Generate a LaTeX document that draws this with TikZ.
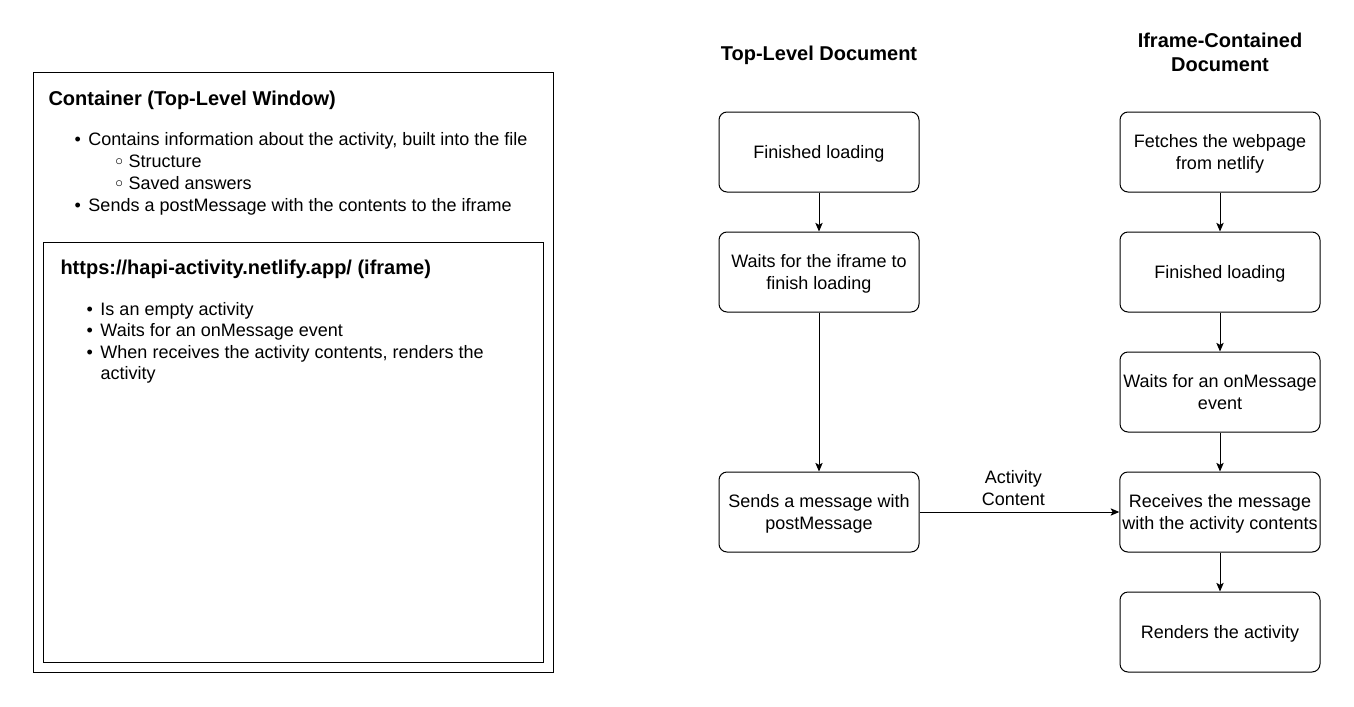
\documentclass[tikz,border=0pt]{standalone}
\usepackage{fontspec}
\setmainfont{Liberation Sans}
\usepackage{tikz}
\usetikzlibrary{arrows.meta}

\newcommand{\bul}{\makebox[10.5pt][l]{\textbullet}}
\newcommand{\subbul}{\makebox[10.5pt][l]{\hspace{0.6pt}\raisebox{1pt}{\scalebox{0.8}{$\circ$}}}}

\begin{document}
\begin{tikzpicture}[x=0.75pt, y=-0.75pt, line width=0.75pt, font=\fontsize{13.5}{16.5}\selectfont]
        \tikzstyle{proc} = [draw, rounded corners=6pt, minimum width=150pt, minimum height=60pt, align=center, inner sep=2pt, text depth=0pt]
        \tikzstyle{frame} = [draw, inner sep=0pt]
        \tikzstyle{head} = [font=\fontsize{15}{18}\selectfont\bfseries, align=center]
        \tikzstyle{listline} = [anchor=base west, inner sep=0pt]
        \tikzstyle{link} = [-{Stealth[length=6.5pt, width=5.5pt, inset=1.5pt]}]
        \useasboundingbox (0,0) rectangle (1354,707);

        % container and iframe
        \node[frame, minimum width=390pt, minimum height=450pt] (window) at (293,372) {};
        \node[frame, minimum width=375pt, minimum height=315pt] (iframe) at (293,452) {};
        \node[listline, head] (wtitle) at (48,105) {Container (Top-Level Window)};
        \node[listline] (w1) at (74,145) {\bul Contains information about the activity, built into the file};
        \node[listline] (w2) at (114,167) {\subbul Structure};
        \node[listline] (w3) at (114,189) {\subbul Saved answers};
        \node[listline] (w4) at (74,211) {\bul Sends a postMessage with the contents to the iframe};
        \node[listline, head] (ftitle) at (60,274) {https://hapi-activity.netlify.app/ (iframe)};
        \node[listline] (f1) at (86,315) {\bul Is an empty activity};
        \node[listline] (f2) at (86,336.5) {\bul Waits for an onMessage event};
        \node[listline] (f3) at (86,358) {\bul When receives the activity contents, renders the};
        \node[listline] (f3b) at (100,379.5) {activity};

        % columns
        \node[head] (lhead) at (819,55) {Top-Level Document};
        \node[head] (rhead) at (1220,52) {Iframe-Contained\\Document};

        \node[proc] (l1) at (819,152) {Finished loading};
        \node[proc] (l2) at (819,272) {Waits for the iframe to\\finish loading};
        \node[proc] (l3) at (819,512) {Sends a message with\\postMessage};

        \node[proc] (r1) at (1220,152) {Fetches the webpage\\from netlify};
        \node[proc] (r2) at (1220,272) {Finished loading};
        \node[proc] (r3) at (1220,392) {Waits for an onMessage\\event};
        \node[proc] (r4) at (1220,512) {Receives the message\\with the activity contents};
        \node[proc] (r5) at (1220,632) {Renders the activity};

        \foreach \from/\to in {l1/l2, l2/l3, r1/r2, r2/r3, r3/r4, r4/r5}
            \draw[link] (\from) -- (\to);
        \draw[link] (l3) -- node[above, pos=0.47, align=center, inner sep=4pt] (msg) {Activity\\Content} (r4);
    \end{tikzpicture}
\end{document}
